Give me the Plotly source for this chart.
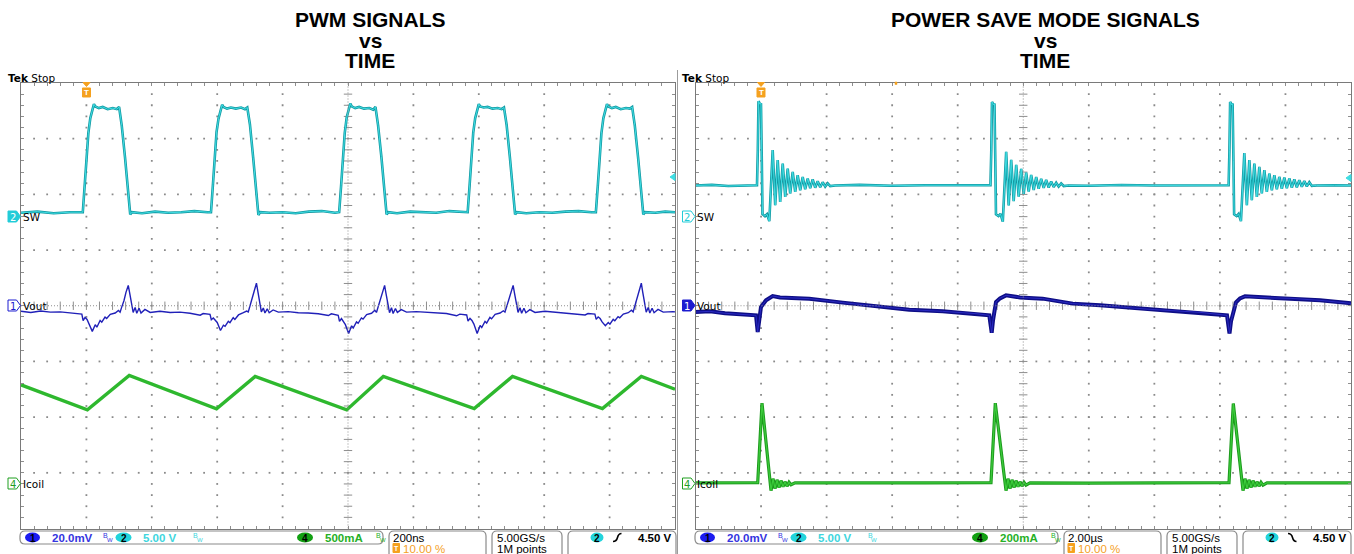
import plotly.graph_objects as go

W, H = 1354, 554

# ---------------- PWM capture: 200 ns/div, trigger at 10 % ----------------
# SW node (V) vs time (ns, 0 = trigger)
pwm_sw_t = [-200, -150, -100, -50,
            -11, -5, 1, 6, 12, 16, 23, 27, 38, 50, 65, 81, 93, 100, 108, 118, 127, 134, 139, 170, 210, 250, 290, 330, 370,
            381, 387, 393, 398, 404, 408, 415, 419, 430, 442, 457, 473, 485, 492, 500, 510, 519, 526, 531, 560, 600, 640, 680, 720, 760,
            773, 779, 785, 790, 796, 800, 807, 811, 822, 834, 849, 865, 877, 884, 892, 902, 911, 918, 923, 950, 990, 1030, 1070, 1110, 1150,
            1166, 1172, 1178, 1183, 1189, 1193, 1200, 1204, 1215, 1227, 1242, 1258, 1270, 1277, 1285, 1295, 1304, 1311, 1316, 1345, 1385, 1425, 1465, 1505, 1545,
            1558, 1564, 1570, 1575, 1581, 1585, 1592, 1596, 1607, 1619, 1634, 1650, 1662, 1669, 1677, 1687, 1696, 1703, 1708, 1740, 1770, 1800]
pwm_sw_v = [0.35, 0.45, 0.3, 0.4,
            0.4, 2.8, 6.0, 7.5, 8.85, 9.3, 10.1, 9.9, 9.75, 9.85, 9.65, 9.75, 9.65, 9.85, 8.2, 5.35, 2.4, 0.2, 0.4, 0.3, 0.45, 0.35, 0.4, 0.5, 0.4,
            0.4, 2.9, 6.1, 7.6, 8.8, 9.3, 10.05, 9.85, 9.7, 9.8, 9.7, 9.8, 9.65, 9.8, 8.3, 5.3, 2.3, 0.15, 0.4, 0.35, 0.4, 0.3, 0.45, 0.5, 0.35,
            0.4, 2.8, 6.0, 7.5, 8.9, 9.35, 10.15, 9.9, 9.75, 9.85, 9.7, 9.75, 9.6, 9.85, 8.2, 5.4, 2.4, 0.2, 0.4, 0.3, 0.45, 0.4, 0.35, 0.5, 0.4,
            0.4, 2.85, 6.0, 7.55, 8.85, 9.3, 10.1, 9.9, 9.8, 9.85, 9.7, 9.75, 9.65, 9.8, 8.25, 5.35, 2.35, 0.2, 0.4, 0.3, 0.4, 0.35, 0.45, 0.5, 0.4,
            0.4, 2.8, 6.0, 7.5, 8.85, 9.3, 10.1, 9.9, 9.75, 9.85, 9.65, 9.75, 9.7, 9.85, 8.2, 5.35, 2.4, 0.2, 0.4, 0.35, 0.45, 0.4]

# Vout ripple (mV, AC coupled)
pwm_vout_t = [-200, -170, -140, -110, -80, -50,
              -36, -14, -10, -4, 2, 8, 18, 27, 32, 42, 47, 57, 62, 73, 88, 98, 103, 108, 115, 121, 128, 132, 139, 143, 149, 154, 161, 167, 179, 195, 225, 256, 286, 317, 348,
              357, 378, 382, 388, 394, 400, 410, 419, 424, 434, 439, 449, 454, 465, 480, 490, 495, 500, 507, 513, 520, 524, 531, 535, 541, 546, 553, 559, 571, 587, 617, 648, 678, 709, 740,
              749, 770, 774, 780, 786, 792, 802, 811, 816, 826, 831, 841, 846, 857, 872, 882, 887, 892, 899, 905, 912, 916, 923, 927, 933, 938, 945, 951, 963, 979, 1009, 1040, 1070, 1101, 1132,
              1142, 1163, 1167, 1173, 1179, 1185, 1195, 1204, 1209, 1219, 1224, 1234, 1239, 1250, 1265, 1275, 1280, 1285, 1292, 1298, 1305, 1309, 1316, 1320, 1326, 1331, 1338, 1344, 1356, 1372, 1402, 1433, 1463, 1494, 1525,
              1534, 1555, 1559, 1565, 1571, 1577, 1587, 1596, 1601, 1611, 1616, 1626, 1631, 1642, 1657, 1667, 1672, 1677, 1684, 1690, 1697, 1701, 1708, 1712, 1718, 1723, 1730, 1736, 1748, 1764, 1794, 1800]
pwm_vout_mv = [-2.0, -2.4, -1.9, -2.3, -2.2, -2.6,
               -2.7, -3.0, -5.3, -4.2, -4.9, -6.3, -9.2, -6.8, -7.7, -5.3, -5.9, -4.1, -4.6, -3.1, -2.6, -1.7, -2.3, -0.5, 1.9, 4.8, 7.3, 4.8, 0.1, -2.4, -0.6, -2.7, -0.9, -2.6, -1.3, -2.4, -2.0, -2.4, -2.3, -2.7, -3.4,
               -2.8, -3.1, -5.0, -4.4, -5.1, -6.0, -8.9, -7.0, -7.4, -5.6, -6.1, -4.3, -4.9, -3.3, -2.5, -1.9, -2.2, -0.3, 2.2, 5.2, 8.1, 5.0, 0.3, -2.2, -0.8, -2.6, -1.1, -2.5, -1.5, -2.3, -2.1, -2.5, -2.6, -2.9, -3.5,
               -2.9, -3.4, -5.6, -4.6, -5.5, -6.8, -10.0, -7.2, -8.0, -5.8, -6.3, -4.4, -4.8, -3.2, -2.7, -1.6, -2.4, -0.6, 1.8, 4.6, 7.3, 4.5, 0.0, -2.5, -0.7, -2.8, -1.0, -2.4, -1.4, -2.3, -2.1, -2.3, -2.4, -2.8, -3.6,
               -3.0, -3.3, -5.5, -4.5, -5.3, -6.6, -10.0, -7.1, -7.8, -5.6, -6.2, -4.2, -4.7, -3.1, -2.6, -1.8, -2.3, -0.4, 2.0, 4.7, 7.3, 4.6, 0.2, -2.4, -0.7, -2.7, -0.9, -2.5, -1.4, -2.4, -2.0, -2.3, -2.5, -2.8, -3.3,
               -2.8, -3.0, -4.9, -4.0, -4.6, -5.8, -7.2, -6.0, -6.6, -4.9, -5.4, -3.9, -4.3, -3.0, -2.5, -1.6, -2.2, -0.2, 2.3, 5.3, 8.1, 5.1, 0.3, -2.3, -0.6, -2.6, -0.9, -2.5, -1.3, -2.3, -2.1, -2.2]

# coil current (mA)
pwm_icoil_t = [-200, 3, 131, 398, 516, 796, 908, 1186, 1303, 1578, 1697, 1800]
pwm_icoil_ma = [890, 665, 974, 674, 965, 665, 965, 677, 965, 677, 965, 850]

# ---------------- Power save capture: 2 us/div, trigger at 10 % ----------------
psm_sw_t = [-2.0, -1.5, -1.0, -0.5, -0.124, -0.099, -0.078, -0.032, -0.002, 0.023, 0.044, 0.120, 0.182, 0.252,
            0.355, 0.432, 0.508, 0.584, 0.661, 0.737, 0.813, 0.889, 0.966, 1.042, 1.118, 1.195, 1.271, 1.347, 1.423, 1.500,
            1.576, 1.652, 1.728, 1.805, 1.881, 1.957, 2.033, 2.110, 2.256,
            3.0, 4.0, 5.0, 6.0, 6.9,
            7.000, 7.025, 7.046, 7.092, 7.122, 7.147, 7.168, 7.244, 7.306, 7.376,
            7.479, 7.556, 7.632, 7.708, 7.785, 7.861, 7.937, 8.013, 8.090, 8.166, 8.242, 8.319, 8.395, 8.471, 8.547, 8.624,
            8.700, 8.776, 8.852, 8.929, 9.005, 9.081, 9.157, 9.234, 9.38,
            10.0, 11.0, 12.0, 13.0, 14.0,
            14.266, 14.291, 14.312, 14.358, 14.388, 14.413, 14.434, 14.510, 14.572, 14.642,
            14.745, 14.822, 14.898, 14.974, 15.051, 15.127, 15.203, 15.279, 15.356, 15.432, 15.508, 15.585, 15.661, 15.737,
            15.813, 15.890, 15.966, 16.042, 16.118, 16.195, 16.271, 16.347, 16.423, 16.500, 16.576, 16.652, 16.728, 16.805, 16.95,
            17.5, 18.0]
psm_sw_v = [2.8, 2.85, 2.75, 2.8, 2.82, 5.97, 10.37, 10.1, 10.19, 5.07, 0.22, 0.04, 0.22, -0.41,
            5.97, 1.02, 5.07, 1.32, 4.77, 1.77, 4.32, 2.08, 4.02, 2.22, 3.72, 2.37, 3.57, 2.46, 3.43, 2.55,
            3.34, 2.6, 3.18, 2.64, 3.09, 2.69, 3.0, 2.75, 2.8,
            2.85, 2.78, 2.82, 2.8, 2.85,
            2.82, 5.97, 10.3, 10.05, 10.15, 5.07, 0.2, 0.05, 0.25, -0.45,
            5.82, 1.0, 5.1, 1.4, 4.65, 1.8, 4.3, 2.05, 3.95, 2.25, 3.75, 2.4, 3.55, 2.5, 3.4, 2.58,
            3.3, 2.62, 3.15, 2.66, 3.05, 2.7, 2.98, 2.75, 2.8,
            2.78, 2.84, 2.8, 2.82, 2.78,
            2.82, 5.97, 10.3, 10.05, 10.15, 5.07, 0.2, 0.05, 0.25, -0.4,
            5.7, 1.02, 5.07, 1.47, 4.77, 1.77, 4.47, 2.08, 4.17, 2.22, 3.87, 2.37, 3.72, 2.46,
            3.57, 2.5, 3.51, 2.55, 3.43, 2.6, 3.34, 2.64, 3.27, 2.68, 3.2, 2.72, 3.1, 2.76, 2.8,
            2.82, 2.8]

psm_vout_t = [-2.0, -1.558, -1.100, -0.642, -0.154, -0.102, -0.063, -0.002, 0.151, 0.355, 0.578, 1.036, 1.472, 2.491,
              3.507, 4.523, 5.542, 6.558, 6.964, 7.037, 7.077, 7.169, 7.291, 7.474, 7.901, 8.593, 9.509, 10.342,
              11.867, 13.393, 14.217, 14.293, 14.339, 14.492, 14.613, 14.766, 15.529, 16.139, 17.054, 18.0]
psm_vout_mv = [-2.27, -2.0, -2.7, -3.1, -3.45, -9.46, -5.25, -0.47, 1.94, 3.49, 3.0, 2.84, 2.55, 1.12,
               -0.22, -1.4, -2.01, -2.84, -3.45, -9.68, -5.25, 1.33, 2.66, 3.74, 3.0, 2.55, 0.76, 0.14,
               -1.29, -2.37, -3.45, -9.93, -5.6, 1.22, 2.66, 3.38, 2.84, 2.66, 1.94, 0.86]

psm_icoil_t = [-2.0, -1.0, -0.102, 0.029, 0.304, 0.365, 0.426, 0.487, 0.548, 0.609, 0.670, 0.731, 0.792, 0.853, 0.914, 1.036, 3.0, 5.0,
               7.016, 7.147, 7.474, 7.535, 7.596, 7.657, 7.718, 7.779, 7.840, 7.901, 7.962, 8.023, 8.084, 8.206, 10.0, 12.0,
               14.278, 14.409, 14.705, 14.766, 14.827, 14.888, 14.949, 15.010, 15.071, 15.132, 15.193, 15.254, 15.315, 15.437, 17.0, 18.0]
psm_icoil_ma = [3.6, 4.0, 4.7, 290, -24, 19, -17, 15, -13, 12, -10, 8, -8, 6, -3, 4, 3, 4,
                4.7, 290, -24, 19, -17, 15, -13, 12, -10, 8, -8, 6, -4, 4, 3, 4,
                4.7, 289, -24, 19, -17, 15, -13, 12, -10, 8, -8, 6, -4, 4, 3, 4]

for a, b in [(pwm_sw_t, pwm_sw_v), (pwm_vout_t, pwm_vout_mv), (pwm_icoil_t, pwm_icoil_ma),
             (psm_sw_t, psm_sw_v), (psm_vout_t, psm_vout_mv), (psm_icoil_t, psm_icoil_ma)]:
    assert len(a) == len(b), (len(a), len(b))

# channel ground positions, divisions above screen centre
SW_POS, VOUT_POS, ICOIL_POS = 1.6, 0.0, -3.2
GRID_TOP, GRID_BOT = 83, 528.5
GRID_C, BORDER_C = "#8e8e8e", "#7a7a7a"
CYAN, CYAN_DK = "#3fdde3", "#139aa3"
ORANGE = "#f5a11f"

panels = [
    dict(x0=21, x1=675, t0=-200, tdiv=200, xa="x", ya="y", ch=["y2", "y3", "y4"],
         scales=[5.0, 20.0, 500.0], ox=0, title="PWM SIGNALS", tcx=370,
         sw=(pwm_sw_t, pwm_sw_v), vout=(pwm_vout_t, pwm_vout_mv), icoil=(pwm_icoil_t, pwm_icoil_ma),
         vout_dark=None, vout_col="#2020b8", icoil_col="#2eb82e", icoil_dark=None,
         ch4="500mA", tb="200ns", slope="rise", trig_x=86.5, lvl_y=177, fill2=True, fill1=False),
    dict(x0=695.5, x1=1351, t0=-2.0, tdiv=2.0, xa="x2", ya="y5", ch=["y6", "y7", "y8"],
         scales=[5.0, 20.0, 200.0], ox=675, title="POWER SAVE MODE SIGNALS", tcx=1045,
         sw=(psm_sw_t, psm_sw_v), vout=(psm_vout_t, psm_vout_mv), icoil=(psm_icoil_t, psm_icoil_ma),
         vout_dark="#0e0e86", vout_col="#2b2bc4", icoil_col="#3ccc3c", icoil_dark="#1d9a1d",
         ch4="200mA", tb="2.00\u00b5s", slope="fall", trig_x=761, lvl_y=178, fill2=False, fill1=True),
]


def px(x):
    return x / W


def py(y):
    return 1 - y / H


def axkey(a):
    return a[0] + "axis" + a[1:]


def path(*cmds):
    out = []
    for c in cmds:
        op, pts = c[0], c[1:]
        coords = []
        for i in range(0, len(pts), 2):
            coords.append(f"{px(pts[i]):.5f},{py(pts[i + 1]):.5f}")
        out.append(op + " " + " ".join(coords))
    return " ".join(out)


fig = go.Figure()
shapes, notes = [], []
layout_axes = {}


def note(x, y, text, size=11, color="black", xanchor="left", family="DejaVu Sans"):
    notes.append(dict(x=px(x), y=py(y), xref="paper", yref="paper", text=text, showarrow=False,
                      xanchor=xanchor, yanchor="middle", borderpad=0,
                      font=dict(size=size, color=color, family=family)))


def pshape(d, fill=None, line="black", width=1):
    shapes.append(dict(type="path", xref="paper", yref="paper", path=d,
                       fillcolor=fill if fill else "rgba(0,0,0,0)",
                       line=dict(color=line, width=width)))


def rbox(x0, y0, x1, y1, r=5, open_bottom=False):
    if open_bottom:
        d = path(("M", x0, y1), ("L", x0, y0 + r), ("Q", x0, y0, x0 + r, y0), ("L", x1 - r, y0),
                 ("Q", x1, y0, x1, y0 + r), ("L", x1, y1))
    else:
        d = path(("M", x0 + r, y0), ("L", x1 - r, y0), ("Q", x1, y0, x1, y0 + r), ("L", x1, y1 - r),
                 ("Q", x1, y1, x1 - r, y1), ("L", x0 + r, y1), ("Q", x0, y1, x0, y1 - r),
                 ("L", x0, y0 + r), ("Q", x0, y0, x0 + r, y0), ("Z",))
    pshape(d, line="#8a8a8a", width=1.2)


def disc(cx, cy, rx, ry, fill, label, tcol="black"):
    shapes.append(dict(type="circle", xref="paper", yref="paper", x0=px(cx - rx), x1=px(cx + rx),
                       y0=py(cy + ry), y1=py(cy - ry), fillcolor=fill, line=dict(width=0)))
    note(cx, cy + 0.5, f"<b>{label}</b>", size=10, color=tcol, xanchor="center", family="Liberation Sans")


def bw(x, color):
    note(x, 535, "B", size=7, color=color, family="Liberation Sans")
    note(x + 3.5, 540, "W", size=6, color=color, family="Liberation Sans")


def ch_marker(x, y, num, color, filled):
    pshape(path(("M", x, y - 5.5), ("L", x + 8.5, y - 5.5), ("L", x + 12.5, y), ("L", x + 8.5, y + 5.5),
                ("L", x, y + 5.5), ("Z",)), fill=color if filled else "white", line=color, width=1)
    note(x + 4.6, y + 0.5, num, size=10, color="white" if filled else color, xanchor="center")


for p in panels:
    t0, td, xa, ya = p["t0"], p["tdiv"], p["xa"], p["ya"]
    ox = p["ox"]

    # graticule dots
    gx, gy = [], []
    for i in range(1, 10):
        if i == 5:
            continue
        for k in range(1, 40):
            gx.append(t0 + i * td)
            gy.append(-4 + k * 0.2)
    for j in (-3, -2, -1, 1, 2, 3):
        for k in range(1, 50):
            gx.append(t0 + k * td / 5)
            gy.append(j)
    fig.add_trace(go.Scatter(x=gx, y=gy, xaxis=xa, yaxis=ya, mode="markers", hoverinfo="skip",
                             marker=dict(symbol="square", size=1.8, color="#8a8a8a", line=dict(width=0))))
    tc = t0 + 5 * td
    ty = [-4 + k * 0.2 for k in range(1, 40)]
    fig.add_trace(go.Scatter(x=[tc] * len(ty), y=ty, xaxis=xa, yaxis=ya, mode="markers", hoverinfo="skip",
                             marker=dict(symbol="line-ew", size=6, line=dict(color=GRID_C, width=1))))
    tx = [t0 + k * td / 5 for k in range(1, 50)]
    fig.add_trace(go.Scatter(x=tx, y=[0] * len(tx), xaxis=xa, yaxis=ya, mode="markers", hoverinfo="skip",
                             marker=dict(symbol="line-ns", size=6, line=dict(color=GRID_C, width=1))))
    shapes.append(dict(type="line", xref=xa, yref=ya, x0=tc, x1=tc, y0=-4, y1=4,
                       line=dict(color=GRID_C, width=1, dash="1px,2px")))
    shapes.append(dict(type="line", xref=xa, yref=ya, x0=t0, x1=t0 + 10 * td, y0=0, y1=0,
                       line=dict(color=GRID_C, width=1, dash="1px,2px")))

    # axes
    layout_axes[axkey(xa)] = dict(domain=[px(p["x0"]), px(p["x1"])], range=[t0, t0 + 10 * td], anchor=ya,
                                  showgrid=False, zeroline=False, showticklabels=False, ticks="inside",
                                  ticklen=3, tickcolor=GRID_C, tick0=t0, dtick=td / 5, showline=True,
                                  linecolor=BORDER_C, mirror="ticks", fixedrange=True)
    layout_axes[axkey(ya)] = dict(domain=[py(GRID_BOT), py(GRID_TOP)], range=[-4, 4], anchor=xa,
                                  showgrid=False, zeroline=False, showticklabels=False, ticks="inside",
                                  ticklen=3, tickcolor=GRID_C, tick0=-4, dtick=0.2, showline=True,
                                  linecolor=BORDER_C, mirror="ticks", fixedrange=True)
    for a, s, pos in zip(p["ch"], p["scales"], [SW_POS, VOUT_POS, ICOIL_POS]):
        layout_axes[axkey(a)] = dict(overlaying=ya, anchor=xa, range=[(-4 - pos) * s, (4 - pos) * s],
                                     visible=False, fixedrange=True)

    y_sw, y_vo, y_ic = p["ch"]
    # Icoil
    if p["icoil_dark"]:
        fig.add_trace(go.Scatter(x=p["icoil"][0], y=p["icoil"][1], xaxis=xa, yaxis=y_ic, mode="lines",
                                 line=dict(color=p["icoil_dark"], width=3.2), hoverinfo="skip"))
        fig.add_trace(go.Scatter(x=p["icoil"][0], y=p["icoil"][1], xaxis=xa, yaxis=y_ic, mode="lines",
                                 line=dict(color=p["icoil_col"], width=1.2), hoverinfo="skip"))
    else:
        fig.add_trace(go.Scatter(x=p["icoil"][0], y=p["icoil"][1], xaxis=xa, yaxis=y_ic, mode="lines",
                                 line=dict(color=p["icoil_col"], width=3.4), hoverinfo="skip"))
    # Vout
    if p["vout_dark"]:
        fig.add_trace(go.Scatter(x=p["vout"][0], y=p["vout"][1], xaxis=xa, yaxis=y_vo, mode="lines",
                                 line=dict(color=p["vout_dark"], width=4), hoverinfo="skip"))
        fig.add_trace(go.Scatter(x=p["vout"][0], y=p["vout"][1], xaxis=xa, yaxis=y_vo, mode="lines",
                                 line=dict(color=p["vout_col"], width=1), hoverinfo="skip"))
    else:
        fig.add_trace(go.Scatter(x=p["vout"][0], y=p["vout"][1], xaxis=xa, yaxis=y_vo, mode="lines",
                                 line=dict(color=p["vout_col"], width=1.4), hoverinfo="skip"))
    # SW
    fig.add_trace(go.Scatter(x=p["sw"][0], y=p["sw"][1], xaxis=xa, yaxis=y_sw, mode="lines",
                             line=dict(color=CYAN_DK, width=2.6), hoverinfo="skip"))
    fig.add_trace(go.Scatter(x=p["sw"][0], y=p["sw"][1], xaxis=xa, yaxis=y_sw, mode="lines",
                             line=dict(color=CYAN, width=1), hoverinfo="skip"))

    # titles (tight three-line block, as in the source image)
    cx = p["tcx"]
    note(cx, 19.5, f"<b>{p['title']}</b>", size=21, xanchor="center", family="Liberation Sans")
    note(cx, 40.2, "<b>vs</b>", size=21, xanchor="center", family="Liberation Sans")
    note(cx, 60.3, "<b>TIME</b>", size=21, xanchor="center", family="Liberation Sans")

    # scope header + channel markers
    lx = p["x0"] - 13
    note(lx - 1, 78, "<b>Tek</b> Stop", size=10.5)
    ch_marker(lx, 216.5, "2", "#22ccd8", p["fill2"])
    ch_marker(lx, 305.5, "1", "#1c1cd0", p["fill1"])
    ch_marker(lx, 483.5, "4", "#1f9f1f", False)
    note(p["x0"] + 1, 217, "SW", size=10.5)
    note(p["x0"] + 1, 306, "Vout", size=10.5)
    note(p["x0"] + 1, 484, "Icoil", size=10.5)

    # trigger position marker
    tx0 = p["trig_x"]
    pshape(path(("M", tx0 - 3.5, 82.5), ("L", tx0 + 3.5, 82.5), ("L", tx0, 86.5), ("Z",)), fill=ORANGE, line=ORANGE)
    pshape(path(("M", tx0 - 4, 88), ("L", tx0 + 4, 88), ("L", tx0 + 4, 97), ("L", tx0 - 4, 97), ("Z",)),
           fill=ORANGE, line=ORANGE)
    note(tx0, 92.8, "<b>T</b>", size=8, color="white", xanchor="center", family="Liberation Sans")

    # trigger level arrow at right edge
    rx = p["x1"]
    pshape(path(("M", rx, p["lvl_y"] - 3.5), ("L", rx - 5, p["lvl_y"]), ("L", rx, p["lvl_y"] + 3.5), ("Z",)),
           fill=CYAN, line=CYAN)

    # status bar
    rbox(20 + ox, 531, 383 + ox, 544, r=5)
    disc(32.5 + ox, 537.5, 7.5, 5, "#1c1cf0", "1")
    note(51 + ox, 538, "<b>20.0mV</b>", size=11.5, color="#3434e0", family="Liberation Sans")
    bw(102 + ox, "#3434e0")
    disc(123.5 + ox, 537.5, 8, 5, "#22d4dc", "2")
    note(142 + ox, 538, "<b>5.00 V</b>", size=11.5, color="#3ed6de", family="Liberation Sans")
    bw(192 + ox, "#3ed6de")
    disc(305 + ox, 537.5, 8, 5, "#12a012", "4")
    note(324 + ox, 538, f"<b>{p['ch4']}</b>", size=11.5, color="#26b026", family="Liberation Sans")
    bw(375 + ox, "#26b026")

    rbox(389 + ox, 531, 486 + ox, 556, r=5, open_bottom=True)
    note(392 + ox, 538, p["tb"], size=11.5, family="Liberation Sans")
    pshape(path(("M", 393 + ox, 543.5), ("L", 399.5 + ox, 543.5), ("L", 399.5 + ox, 552.5), ("L", 393 + ox, 552.5), ("Z",)),
           fill=ORANGE, line=ORANGE)
    note(396.3 + ox, 548.3, "<b>T</b>", size=7, color="white", xanchor="center", family="Liberation Sans")
    note(402 + ox, 548.5, "10.00 %", size=11.5, color=ORANGE, family="Liberation Sans")

    rbox(492 + ox, 531, 562 + ox, 556, r=5, open_bottom=True)
    note(496 + ox, 538, "5.00GS/s", size=11.5, family="Liberation Sans")
    note(496 + ox, 548.5, "1M points", size=11.5, family="Liberation Sans")

    rbox(568 + ox, 531, 676 + ox, 556, r=5, open_bottom=True)
    disc(597 + ox, 537.5, 6.5, 5, "#22d4dc", "2")
    if p["slope"] == "rise":
        pshape(path(("M", 613 + ox, 541.5), ("Q", 616.5 + ox, 541.5, 617.5 + ox, 537.5),
                    ("Q", 618.5 + ox, 533.5, 621.5 + ox, 533.5)), line="black", width=1.6)
    else:
        pshape(path(("M", 613 + ox, 533.5), ("Q", 616.5 + ox, 533.5, 617.5 + ox, 537.5),
                    ("Q", 618.5 + ox, 541.5, 621.5 + ox, 541.5)), line="black", width=1.6)
    note(673 + ox, 538, "<b>4.50 V</b>", size=11.5, xanchor="right", family="Liberation Sans")

# small orange expansion mark on the power-save screen's top edge
pshape(path(("M", 895, 82), ("L", 897, 82), ("L", 897, 84.5), ("L", 895, 84.5), ("Z",)), fill=ORANGE, line=ORANGE, width=0.5)

# separator between the two screenshots
shapes.append(dict(type="line", xref="paper", yref="paper", x0=px(677.5), x1=px(677.5), y0=py(554), y1=py(70),
                   line=dict(color="#9c9c9c", width=1)))

fig.update_layout(
    width=W, height=H, margin=dict(l=0, r=0, t=0, b=0),
    paper_bgcolor="white", plot_bgcolor="white", showlegend=False,
    shapes=shapes, annotations=notes, **layout_axes,
)

# the page body has a default margin; remove it so the figure sits at the window origin
fig.write_html("out.html", config={"displayModeBar": False},
               post_script="document.body.style.margin='0';document.body.style.overflow='hidden';")
